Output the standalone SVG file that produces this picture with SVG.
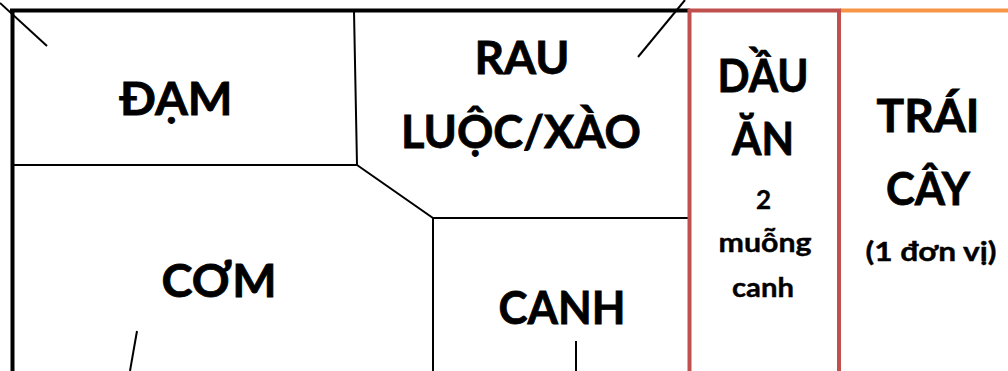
<svg xmlns="http://www.w3.org/2000/svg" width="1008" height="371" viewBox="0 0 1008 371">
<style>
.t{font-family:Lato,"Open Sans","Liberation Sans",sans-serif;font-weight:bold;fill:#000;text-anchor:middle}
.big{font-size:46px;stroke:#000;stroke-width:0.8px}
.small{font-size:26px;stroke:#000;stroke-width:0.4px}
.thin{stroke:#000;stroke-width:2;fill:none}
.thick{stroke:#000;stroke-width:4;fill:none}
</style>
<rect width="1008" height="371" fill="#fff"/>
<g id="connectors">
<line class="thin" x1="0" y1="3" x2="47" y2="46"/>
<line class="thin" x1="685" y1="0" x2="638" y2="57"/>
<line class="thin" x1="137" y1="331" x2="130" y2="371"/>
<line class="thin" x1="576" y1="341" x2="576" y2="371"/>
</g>
<g id="frame">
<line class="thick" x1="10" y1="10.5" x2="690" y2="10.5"/>
<line class="thick" x1="12.5" y1="9" x2="12.5" y2="371"/>
<line x1="840" y1="10.5" x2="1008" y2="10.5" stroke="#F79646" stroke-width="4"/>
</g>
<g id="dam">
<polyline class="thin" points="354,11 357,165 13,165"/>
<text class="t big" x="176" y="115" textLength="113" lengthAdjust="spacingAndGlyphs">ĐẠM</text>
</g>
<g id="rau">
<polyline class="thin" points="357,165 433,218 688,218"/>
<text class="t big" x="522" y="74" textLength="95" lengthAdjust="spacingAndGlyphs">RAU</text>
<text class="t big" x="521" y="148" textLength="240" lengthAdjust="spacingAndGlyphs">LUỘC/XÀO</text>
</g>
<g id="com">
<text class="t big" x="219" y="297" textLength="115" lengthAdjust="spacingAndGlyphs">CƠM</text>
</g>
<g id="canh">
<line class="thin" x1="433" y1="218" x2="433" y2="371"/>
<text class="t big" x="562" y="324" textLength="127" lengthAdjust="spacingAndGlyphs">CANH</text>
</g>
<g id="dau">
<rect x="689.5" y="10.5" width="149.5" height="370" fill="none" stroke="#C0504D" stroke-width="4"/>
<text class="t big" x="763" y="92" textLength="91" lengthAdjust="spacingAndGlyphs">DẦU</text>
<text class="t big" x="763" y="155" textLength="62" lengthAdjust="spacingAndGlyphs">ĂN</text>
<text class="t small" x="763.5" y="209">2</text>
<text class="t small" x="765" y="252" textLength="93" lengthAdjust="spacingAndGlyphs">muỗng</text>
<text class="t small" x="763" y="297" textLength="62" lengthAdjust="spacingAndGlyphs">canh</text>
</g>
<g id="traicay">
<text class="t big" x="928" y="132" textLength="103" lengthAdjust="spacingAndGlyphs">TRÁI</text>
<text class="t big" x="928" y="205" textLength="84" lengthAdjust="spacingAndGlyphs">CÂY</text>
<text class="t small" x="931" y="261" textLength="131" lengthAdjust="spacingAndGlyphs">(1 đơn vị)</text>
</g>
</svg>
